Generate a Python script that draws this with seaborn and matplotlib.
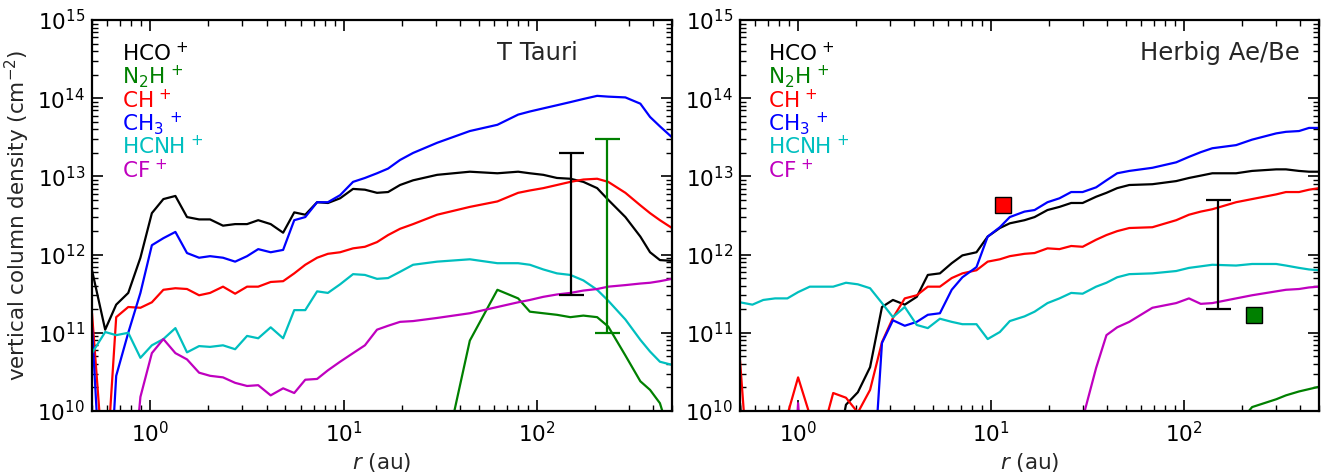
import numpy as np
import pandas as pd
import matplotlib
matplotlib.use("Agg")
import matplotlib.pyplot as plt
from matplotlib.ticker import LogLocator, NullFormatter
import seaborn as sns

# radius grids (au)
tt_r = [0.5, 0.585, 0.667, 0.77, 0.89, 1.02, 1.17, 1.35, 1.55, 1.79, 2.04, 2.38, 2.75,
        3.17, 3.62, 4.2, 4.87, 5.56, 6.34, 7.3, 8.3, 9.6, 11.2, 12.9, 14.9, 17, 19.6,
        22.9, 30.5, 45, 62.5, 80, 92, 108, 127, 149, 174, 205, 234, 287, 343, 385, 433, 500]
hb_r = [0.5, 0.58, 0.66, 0.76, 0.88, 1.0, 1.15, 1.33, 1.52, 1.77, 2.04, 2.36, 2.72, 3.1,
        3.57, 4.12, 4.7, 5.43, 6.25, 7.1, 8.4, 9.6, 11.1, 12.5, 14.9, 16.8, 19.6, 22.6,
        26, 29.8, 35, 39.6, 45, 52, 68.5, 91, 106, 122, 140, 186, 225, 300, 337, 394, 444, 500]

# log10 column densities, T Tauri disc (8 = off the bottom of the plot)
tt_hco = [11.80, 11.04, 11.36, 11.51, 11.96, 12.53, 12.71, 12.75, 12.48, 12.45, 12.45, 12.37,
          12.39, 12.39, 12.44, 12.39, 12.28, 12.54, 12.51, 12.67, 12.66, 12.72, 12.84, 12.83,
          12.79, 12.80, 12.89, 12.95, 13.02, 13.06, 13.04, 13.06, 13.04, 13.02, 12.98, 12.97,
          12.93, 12.85, 12.70, 12.48, 12.23, 12.03, 11.93, 11.92]
tt_n2h = [8, 8, 8, 8, 8, 8, 8, 8, 8, 8, 8, 8, 8, 8, 8, 8, 8, 8, 8, 8, 8, 8, 8, 8, 8, 8, 8,
          8, 9.0, 10.9, 11.55, 11.44, 11.27, 11.25, 11.23, 11.20, 11.22, 11.20, 11.08, 10.71,
          10.38, 10.27, 10.10, 9.6]
tt_ch = [11.25, 9.0, 11.20, 11.33, 11.32, 11.39, 11.55, 11.57, 11.56, 11.48, 11.51, 11.59,
         11.50, 11.59, 11.59, 11.65, 11.66, 11.76, 11.87, 11.96, 12.01, 12.03, 12.08, 12.10,
         12.16, 12.25, 12.33, 12.39, 12.51, 12.61, 12.68, 12.79, 12.82, 12.85, 12.89, 12.93,
         12.96, 12.97, 12.93, 12.79, 12.63, 12.53, 12.44, 12.34]
tt_ch3 = [11.07, 8.0, 10.45, 11.0, 11.51, 12.12, 12.21, 12.29, 12.02, 11.96, 11.98, 11.96,
          11.91, 11.98, 12.07, 12.03, 12.06, 12.44, 12.48, 12.67, 12.67, 12.76, 12.93, 12.98,
          13.04, 13.10, 13.21, 13.30, 13.43, 13.58, 13.66, 13.79, 13.83, 13.87, 13.91, 13.95,
          13.99, 14.03, 14.02, 14.01, 13.93, 13.76, 13.64, 13.50]
tt_hcnh = [10.74, 11.01, 10.97, 11.0, 10.68, 10.84, 10.92, 11.06, 10.75, 10.83, 10.82, 10.84,
           10.79, 10.96, 10.93, 11.07, 10.93, 11.29, 11.29, 11.53, 11.51, 11.62, 11.75, 11.74,
           11.69, 11.70, 11.78, 11.87, 11.91, 11.94, 11.89, 11.89, 11.87, 11.81, 11.76, 11.74,
           11.67, 11.55, 11.41, 11.17, 10.91, 10.76, 10.63, 10.59]
tt_cf = [8, 8, 8, 8.5, 10.18, 10.74, 10.92, 10.74, 10.66, 10.49, 10.45, 10.43, 10.36, 10.32,
         10.33, 10.20, 10.29, 10.23, 10.40, 10.41, 10.52, 10.63, 10.74, 10.84, 11.04, 11.09,
         11.14, 11.15, 11.19, 11.25, 11.33, 11.39, 11.42, 11.46, 11.49, 11.51, 11.54, 11.56,
         11.59, 11.61, 11.63, 11.64, 11.66, 11.69]

# log10 column densities, Herbig Ae/Be disc
hb_hco = [10.1, 8, 8, 8, 8, 8, 8, 8, 9.2, 10.08, 10.24, 10.56, 11.33, 11.42, 11.36, 11.46,
          11.74, 11.76, 11.89, 11.99, 12.03, 12.23, 12.34, 12.40, 12.44, 12.48, 12.57, 12.61,
          12.66, 12.66, 12.74, 12.79, 12.85, 12.89, 12.90, 12.94, 12.98, 13.01, 13.04, 13.04,
          13.07, 13.09, 13.09, 13.07, 13.06, 13.06]
hb_n2h = [8] * 39 + [9.8, 10.05, 10.15, 10.20, 10.25, 10.28, 10.31]
hb_ch = [10.65, 8.5, 8, 8, 9.95, 10.43, 9.95, 9.7, 10.23, 10.17, 9.98, 10.27, 10.88, 11.19,
         11.44, 11.48, 11.59, 11.59, 11.70, 11.76, 11.80, 11.91, 11.94, 11.98, 12.01, 12.02,
         12.08, 12.07, 12.11, 12.10, 12.19, 12.25, 12.30, 12.34, 12.35, 12.44, 12.51, 12.55,
         12.58, 12.67, 12.71, 12.77, 12.80, 12.80, 12.83, 12.85]
hb_ch3 = [8, 8, 8, 8, 8, 8, 8, 8, 8, 8, 8, 8.5, 10.87, 11.16, 11.09, 11.14, 11.23, 11.25,
          11.55, 11.71, 11.84, 12.23, 12.35, 12.48, 12.55, 12.57, 12.67, 12.72, 12.80, 12.80,
          12.86, 12.95, 13.04, 13.07, 13.11, 13.18, 13.25, 13.31, 13.36, 13.40, 13.47, 13.55,
          13.57, 13.58, 13.62, 13.62]
hb_hcnh = [11.39, 11.36, 11.42, 11.44, 11.44, 11.52, 11.59, 11.59, 11.59, 11.64, 11.62, 11.57,
           11.38, 11.20, 11.33, 11.10, 11.06, 11.18, 11.14, 11.11, 11.11, 10.92, 11.01, 11.15,
           11.21, 11.27, 11.38, 11.44, 11.51, 11.50, 11.59, 11.64, 11.71, 11.75, 11.76, 11.79,
           11.83, 11.85, 11.87, 11.86, 11.88, 11.88, 11.86, 11.83, 11.81, 11.80]
hb_cf = [8, 8, 8, 8, 8, 10.1, 8, 8, 8, 8, 8, 8, 8, 8, 8, 8, 8, 8, 8, 8, 8, 8, 8, 8, 8, 8,
         8, 8, 8, 9.9, 10.55, 10.97, 11.07, 11.14, 11.32, 11.38, 11.44, 11.37, 11.38, 11.44,
         11.48, 11.53, 11.55, 11.56, 11.58, 11.59]

species = ["HCO+", "N2H+", "CH+", "CH3+", "HCNH+", "CF+"]
labels = [r"HCO$^{\,+}$", r"N$_2$H$^{\,+}$", r"CH$^{\,+}$", r"CH$_3$$^{\,+}$",
          r"HCNH$^{\,+}$", r"CF$^{\,+}$"]
colors = ["k", "#008000", "#ff0000", "#0000ff", "#00bfbf", "#bf00bf"]

# observed ranges (error bars) and points (squares)
tt_obs_r = [150, 230]
tt_obs_lo = [3e11, 1e11]
tt_obs_hi = [2e13, 3e13]
tt_obs_col = ["k", "#008000"]
hb_obs_r = [150]
hb_obs_lo = [2e11]
hb_obs_hi = [5e12]
hb_pts_r = [11.5, 230]
hb_pts_n = [4.3e12, 1.7e11]
hb_pts_col = ["#ff0000", "#008000"]


def long_table(r, cols):
    rows = []
    for name, vals in zip(species, cols):
        rows.append(pd.DataFrame({"r": r, "N": 10.0 ** np.array(vals), "species": name}))
    return pd.concat(rows, ignore_index=True)


tt_df = long_table(tt_r, [tt_hco, tt_n2h, tt_ch, tt_ch3, tt_hcnh, tt_cf])
hb_df = long_table(hb_r, [hb_hco, hb_n2h, hb_ch, hb_ch3, hb_hcnh, hb_cf])

sns.set_style("ticks", {"xtick.direction": "in", "ytick.direction": "in"})
plt.rcParams.update({
    "font.family": ["DejaVu Sans"],
    "font.size": 15,
    "axes.linewidth": 1.6,
    "axes.edgecolor": "black",
    "xtick.color": "black", "ytick.color": "black",
    "xtick.top": True, "ytick.right": True,
    "xtick.major.size": 8, "ytick.major.size": 8,
    "xtick.minor.size": 4, "ytick.minor.size": 4,
    "xtick.major.width": 1.2, "ytick.major.width": 1.2,
    "xtick.minor.width": 1.0, "ytick.minor.width": 1.0,
    "xtick.major.pad": 7, "ytick.major.pad": 5,
    "xtick.labelsize": 15.5, "ytick.labelsize": 15.5,
})

fig = plt.figure(figsize=(13.31, 4.74), dpi=100)
ax1 = fig.add_axes([92 / 1331, 63 / 474, 580 / 1331, 391 / 474])
ax2 = fig.add_axes([740 / 1331, 63 / 474, 579 / 1331, 391 / 474])
pal = dict(zip(species, colors))

for ax, df, title, tx, lx in [(ax1, tt_df, "T Tauri", 0.838, 0.052),
                              (ax2, hb_df, "Herbig Ae/Be", 0.967, 0.048)]:
    sns.lineplot(data=df, x="r", y="N", hue="species", palette=pal, estimator=None,
                 legend=False, linewidth=1.6, ax=ax)
    ax.set_xscale("log")
    ax.set_yscale("log")
    ax.set_xlim(0.5, 500)
    ax.set_ylim(1e10, 1e15)
    for axis in (ax.xaxis, ax.yaxis):
        axis.set_major_locator(LogLocator(base=10, numticks=20))
        axis.set_minor_locator(LogLocator(base=10, subs=np.arange(2, 10), numticks=50))
        axis.set_minor_formatter(NullFormatter())
    ax.tick_params(which="both", direction="in", top=True, right=True)
    ax.set_xlabel(r"$r$ (au)", fontsize=15.5)
    ax.set_ylabel("")
    ax.text(tx, 0.915, title, transform=ax.transAxes, ha="right", va="center", fontsize=17.5)
    # coloured species labels in place of a legend
    for i, (lab, c) in enumerate(zip(labels, colors)):
        ax.text(lx, 0.915 - i * 0.0598, lab, color=c, transform=ax.transAxes,
                ha="left", va="center", fontsize=15.5)
    for side in ax.spines.values():
        side.set_visible(True)

ax1.set_ylabel(r"vertical column density (cm$^{-2}$)", fontsize=15.5)

for r, lo, hi, c in zip(tt_obs_r, tt_obs_lo, tt_obs_hi, tt_obs_col):
    ax1.vlines(r, lo, hi, color=c, lw=1.6)
    ax1.plot([r, r], [lo, hi], ls="none", marker="_", ms=18, mew=1.6, color=c)
for r, lo, hi in zip(hb_obs_r, hb_obs_lo, hb_obs_hi):
    ax2.vlines(r, lo, hi, color="k", lw=1.6)
    ax2.plot([r, r], [lo, hi], ls="none", marker="_", ms=18, mew=1.6, color="k")
for r, n, c in zip(hb_pts_r, hb_pts_n, hb_pts_col):
    ax2.plot(r, n, ls="none", marker="s", ms=11, mfc=c, mec="k", mew=1.0)

fig.savefig("out.png", dpi=100)
